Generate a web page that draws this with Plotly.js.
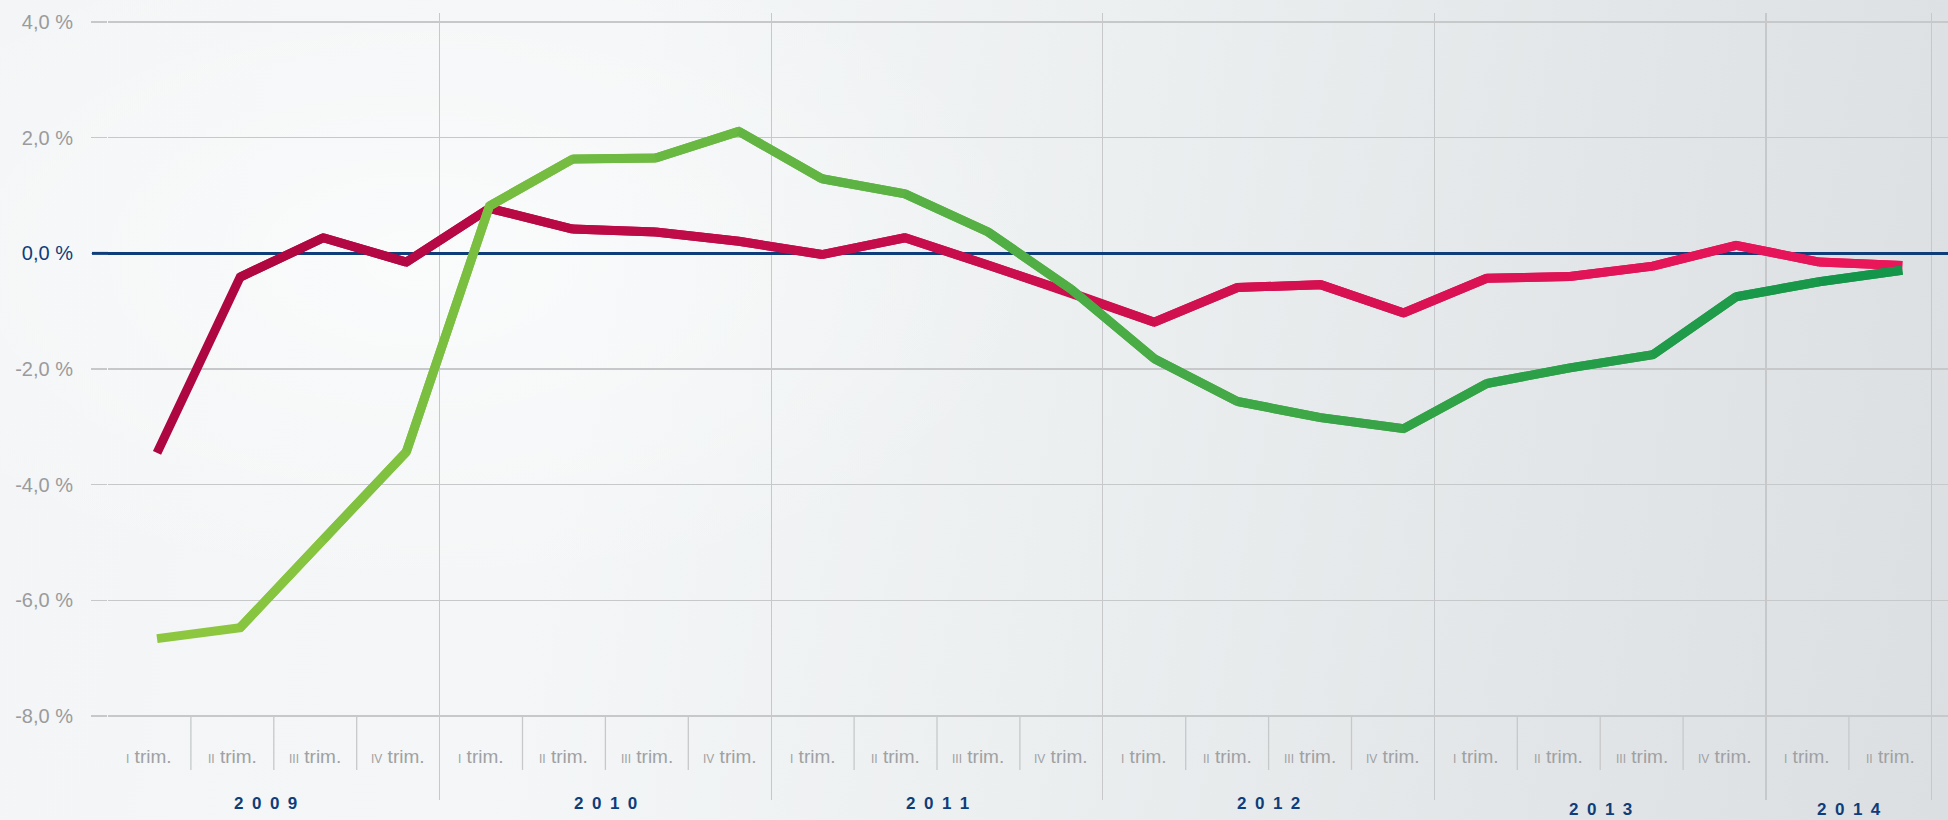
<!DOCTYPE html>
<html>
<head>
<meta charset="utf-8">
<script src="https://cdn.plot.ly/plotly-3.0.1.min.js"></script>
<style>
html,body{margin:0;padding:0;width:1948px;height:820px;overflow:hidden;}
body{
  background:
    radial-gradient(ellipse 900px 500px at 420px 260px, rgba(255,255,255,0.55), rgba(255,255,255,0) 70%),
    linear-gradient(100deg, #f3f5f6 0%, #f4f6f7 30%, #eceff0 55%, #e3e6e8 78%, #dcdfe1 100%);
}
#chart{width:1948px;height:820px;}
</style>
</head>
<body>
<div id="chart"></div>
<script>
// ---- data ----
const quarters = [
  "2009 I","2009 II","2009 III","2009 IV",
  "2010 I","2010 II","2010 III","2010 IV",
  "2011 I","2011 II","2011 III","2011 IV",
  "2012 I","2012 II","2012 III","2012 IV",
  "2013 I","2013 II","2013 III","2013 IV",
  "2014 I","2014 II"
];
const quarterLabels = ["I","II","III","IV","I","II","III","IV","I","II","III","IV","I","II","III","IV","I","II","III","IV","I","II"];
const years = ["2009","2010","2011","2012","2013","2014"];
const quartersPerYear = [4,4,4,4,4,2];
const seriesRed = [-3.45,-0.41,0.27,-0.15,0.78,0.42,0.37,0.21,-0.02,0.27,-0.20,-0.68,-1.19,-0.59,-0.54,-1.03,-0.43,-0.40,-0.22,0.14,-0.15,-0.21];
const seriesGreen = [-6.66,-6.47,-4.95,-3.43,0.82,1.63,1.65,2.11,1.29,1.03,0.37,-0.62,-1.82,-2.56,-2.84,-3.03,-2.25,-1.98,-1.75,-0.75,-0.49,-0.29];
const yTickVals = [-8,-6,-4,-2,0,2,4];
const yTickLabels = ["-8,0 %","-6,0 %","-4,0 %","-2,0 %","0,0 %","2,0 %","4,0 %"];

// ---- styles ----
const redStart = [173,6,64], redEnd = [233,22,90];
const greenStart = [141,198,63], greenEnd = [19,150,74];
const FONT = "Liberation Sans, Arial, Helvetica, sans-serif";
const gridColor = "#c6c8ca";
const blue = "#0e3d7a";

function mix(a,b,t){
  return "rgb(" + a.map((v,i)=>Math.round(v+(b[i]-v)*t)).join(",") + ")";
}
function gradientTraces(vals, c0, c1){
  const out = [];
  const n = vals.length;
  for(let k=0;k<n-1;k++){
    out.push({
      type:"scatter", mode:"lines",
      x: quarters.slice(k, k+3), y: vals.slice(k, k+3),
      xaxis:"x", yaxis:"y",
      line:{color: mix(c0,c1,k/(n-2)), width:9},
      hoverinfo:"skip", showlegend:false
    });
  }
  return out;
}

const traces = [].concat(
  gradientTraces(seriesRed, redStart, redEnd),
  gradientTraces(seriesGreen, greenStart, greenEnd)
);

// quarter positions on the label axis (x2, in quarter units)
const totalQ = quarters.length;
const yearBounds = [0];
quartersPerYear.forEach((q,i)=>yearBounds.push(yearBounds[i]+q));

const shapes = [];
// zero line stub in the tick area (the plot part is the axis zeroline)
shapes.push({type:"line", xref:"paper", yref:"y", x0:-16/1840, x1:0, y0:0, y1:0,
  line:{color:blue, width:3}, layer:"above"});
// quarter dividers below the axis
for(let q=1;q<totalQ;q++){
  if(yearBounds.indexOf(q) >= 0) continue;
  shapes.push({type:"line", xref:"x2", yref:"y", x0:q, x1:q, y0:-8, y1:-8.93,
    line:{color:gridColor, width:1.3}, layer:"below"});
}

const annotations = [];
quarterLabels.forEach((lab,i)=>{
  annotations.push({
    xref:"x2", yref:"y", x:i+0.5, y:-8.70, showarrow:false,
    xanchor:"center", yanchor:"middle",
    text:'<span style="font-size:12px">'+lab+'</span> trim.',
    font:{family:FONT, size:19, color:"#9fa1a3"}
  });
});
years.forEach((yr,i)=>{
  annotations.push({
    xref:"x2", yref:"paper", x:(yearBounds[i]+yearBounds[i+1])/2, y:0,
    showarrow:false, xanchor:"center", yanchor:"middle",
    xshift: i===0 ? -8 : 0,
    yshift: i>=4 ? -9 : -3,
    text:"<b>"+yr.split("").join("\u2002")+"</b>",
    font:{family:FONT, size:17, color:"#0e3d7a"}
  });
});

const layout = {
  width:1948, height:820,
  margin:{l:108, r:0, t:13, b:20, pad:0},
  paper_bgcolor:"rgba(0,0,0,0)",
  plot_bgcolor:"rgba(0,0,0,0)",
  showlegend:false,
  xaxis:{
    type:"category", categoryorder:"array", categoryarray:quarters,
    range:[-0.59, 21.55], visible:false, fixedrange:true
  },
  xaxis2:{
    overlaying:"x", anchor:"y", side:"bottom",
    range:[0, 1840/82.9], tickmode:"array",
    tickvals:yearBounds, showgrid:true, gridcolor:gridColor, gridwidth:1.3,
    showticklabels:false, ticks:"", zeroline:false, showline:false
  },
  yaxis:{
    range:[-9.45, 4.156],
    tickmode:"array", tickvals:yTickVals,
    ticktext:yTickLabels.map((t,i)=> yTickVals[i]===0 ? '<span style="color:'+blue+'">'+t+'</span>' : t),
    showgrid:true, gridcolor:gridColor, gridwidth:1.3,
    ticks:"outside", ticklen:16, tickcolor:gridColor, tickwidth:1.3,
    ticklabelstandoff:14,
    zeroline:true, zerolinecolor:blue, zerolinewidth:3, showline:false,
    tickfont:{family:FONT, size:20, color:"#9a9b9d"}
  },
  shapes:shapes,
  annotations:annotations
};

Plotly.newPlot("chart", traces, layout, {staticPlot:true, displayModeBar:false});
</script>
</body>
</html>
